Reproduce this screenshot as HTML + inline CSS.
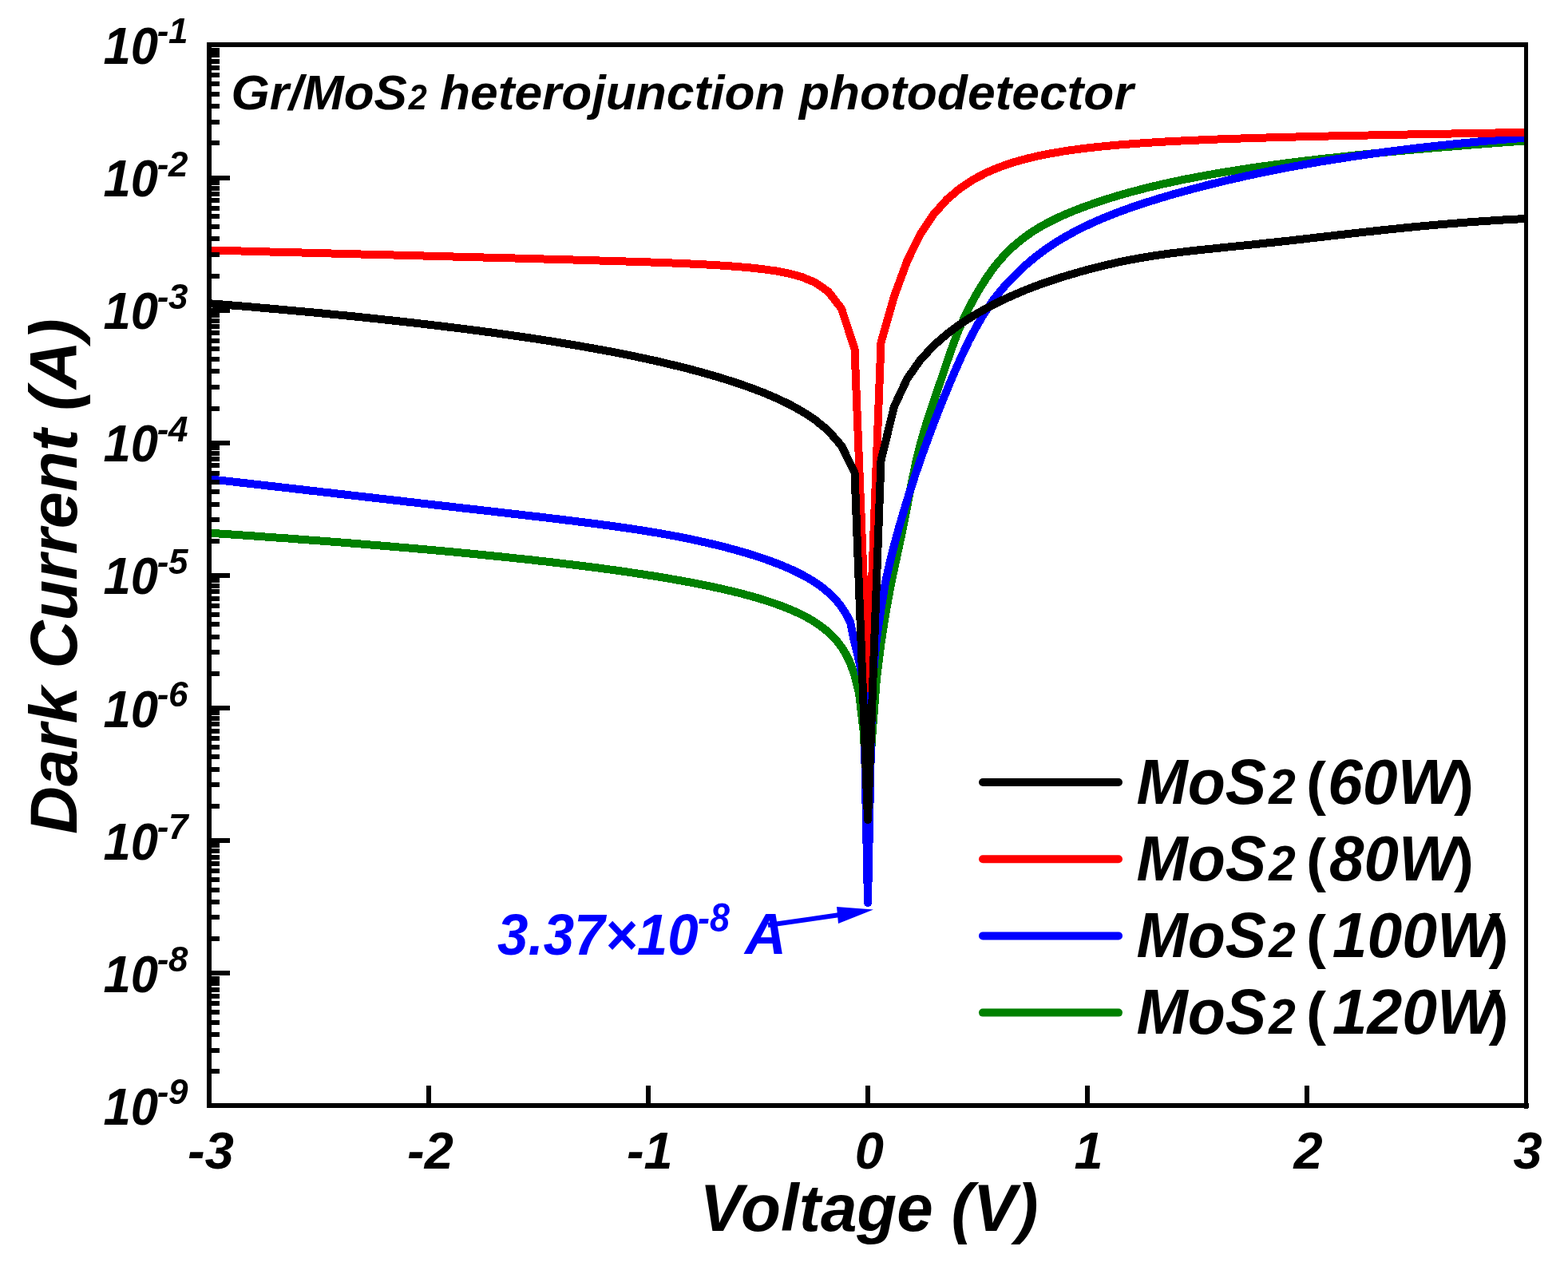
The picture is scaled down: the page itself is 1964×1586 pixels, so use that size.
<!DOCTYPE html>
<html><head><meta charset="utf-8"><title>Dark Current vs Voltage</title>
<style>html,body{margin:0;padding:0;background:#fff;width:1964px;height:1586px;overflow:hidden}svg{display:block}</style>
</head><body>
<svg width="1964" height="1586" viewBox="0 0 1964 1586"><defs><clipPath id="pc"><rect x="262" y="56" width="1649.5" height="1329"/></clipPath></defs>
<path d="M262.0,667.7 L267.5,668.0 L273.0,668.4 L278.5,668.8 L284.0,669.1 L289.5,669.5 L295.0,669.9 L300.5,670.3 L306.0,670.6 L311.5,671.0 L317.0,671.4 L322.5,671.8 L328.0,672.2 L333.5,672.6 L339.0,673.0 L344.5,673.4 L350.0,673.8 L355.5,674.1 L361.0,674.5 L366.5,674.9 L372.0,675.4 L377.5,675.8 L383.0,676.2 L388.5,676.6 L394.0,677.0 L399.5,677.4 L405.0,677.8 L410.5,678.2 L416.0,678.7 L421.5,679.1 L427.0,679.5 L432.5,680.0 L438.0,680.4 L443.5,680.8 L449.0,681.3 L454.5,681.7 L460.0,682.2 L465.5,682.6 L471.0,683.1 L476.5,683.5 L482.0,684.0 L487.5,684.4 L493.0,684.9 L498.5,685.4 L504.0,685.8 L509.5,686.3 L515.0,686.8 L520.5,687.3 L526.0,687.7 L531.5,688.2 L537.0,688.7 L542.5,689.2 L548.0,689.7 L553.5,690.2 L559.0,690.7 L564.5,691.2 L570.0,691.7 L575.5,692.3 L581.0,692.8 L586.5,693.3 L592.0,693.9 L597.5,694.4 L603.0,694.9 L608.5,695.5 L614.0,696.0 L619.5,696.6 L625.0,697.2 L630.5,697.7 L636.0,698.3 L641.5,698.9 L647.0,699.5 L652.5,700.0 L658.0,700.6 L663.5,701.2 L669.0,701.8 L674.5,702.5 L680.0,703.1 L685.5,703.7 L691.0,704.3 L696.5,705.0 L702.0,705.6 L707.5,706.3 L713.0,707.0 L718.5,707.6 L724.0,708.3 L729.5,709.0 L735.0,709.7 L740.5,710.4 L746.0,711.1 L751.5,711.8 L757.0,712.6 L762.5,713.3 L768.0,714.1 L773.5,714.8 L779.0,715.6 L784.5,716.4 L790.0,717.2 L795.5,718.0 L801.0,718.9 L806.5,719.7 L812.0,720.6 L817.5,721.4 L823.0,722.3 L828.5,723.2 L834.0,724.1 L839.5,725.1 L845.0,726.0 L850.5,727.0 L856.0,728.0 L861.5,729.0 L867.0,730.0 L872.5,731.1 L878.0,732.2 L883.5,733.3 L889.0,734.4 L894.5,735.6 L900.0,736.8 L905.5,738.0 L911.0,739.3 L916.5,740.6 L922.0,742.0 L927.5,743.3 L933.0,744.8 L938.5,746.3 L944.0,747.8 L949.5,749.4 L955.0,751.1 L960.5,752.8 L966.0,754.6 L971.5,756.5 L977.0,758.5 L982.5,760.6 L988.0,762.8 L993.5,765.1 L999.0,767.6 L1004.5,770.3 L1010.0,773.1 L1015.5,776.2 L1021.0,779.6 L1026.5,783.3 L1032.0,787.4 L1037.5,792.0 L1043.0,797.2 L1048.5,803.2 L1054.0,810.5 L1059.5,819.3 L1065.0,830.7 L1070.5,846.0 L1076.0,868.0 L1081.5,915.0 L1087.0,1005.0 L1092.5,920.0 L1098.0,850.0 L1103.5,806.0 L1109.0,770.0 L1114.5,739.8 L1120.0,712.6 L1125.5,687.4 L1131.0,661.6 L1136.5,633.1 L1142.0,604.0 L1147.5,577.8 L1153.0,555.6 L1158.5,536.5 L1164.0,519.2 L1169.5,502.9 L1175.0,486.8 L1180.5,470.5 L1186.0,454.1 L1191.5,438.2 L1197.0,423.3 L1202.5,409.6 L1208.0,397.3 L1213.5,386.1 L1219.0,375.7 L1224.5,366.1 L1230.0,357.0 L1235.5,348.4 L1241.0,340.5 L1246.5,333.1 L1252.0,326.4 L1257.5,320.3 L1263.0,314.6 L1268.5,309.4 L1274.0,304.6 L1279.5,300.1 L1285.0,296.0 L1290.5,292.1 L1296.0,288.5 L1301.5,285.1 L1307.0,282.0 L1312.5,279.0 L1318.0,276.2 L1323.5,273.5 L1329.0,270.9 L1334.5,268.5 L1340.0,266.2 L1345.5,263.9 L1351.0,261.8 L1356.5,259.7 L1362.0,257.7 L1367.5,255.8 L1373.0,253.9 L1378.5,252.0 L1384.0,250.2 L1389.5,248.5 L1395.0,246.8 L1400.5,245.1 L1406.0,243.5 L1411.5,242.0 L1417.0,240.4 L1422.5,239.0 L1428.0,237.5 L1433.5,236.1 L1439.0,234.7 L1444.5,233.4 L1450.0,232.1 L1455.5,230.8 L1461.0,229.6 L1466.5,228.4 L1472.0,227.2 L1477.5,226.0 L1483.0,224.9 L1488.5,223.8 L1494.0,222.8 L1499.5,221.7 L1505.0,220.7 L1510.5,219.7 L1516.0,218.7 L1521.5,217.7 L1527.0,216.8 L1532.5,215.9 L1538.0,215.0 L1543.5,214.1 L1549.0,213.2 L1554.5,212.4 L1560.0,211.5 L1565.5,210.7 L1571.0,209.9 L1576.5,209.1 L1582.0,208.3 L1587.5,207.6 L1593.0,206.8 L1598.5,206.1 L1604.0,205.4 L1609.5,204.6 L1615.0,203.9 L1620.5,203.3 L1626.0,202.6 L1631.5,201.9 L1637.0,201.2 L1642.5,200.6 L1648.0,199.9 L1653.5,199.3 L1659.0,198.7 L1664.5,198.1 L1670.0,197.5 L1675.5,196.9 L1681.0,196.3 L1686.5,195.7 L1692.0,195.1 L1697.5,194.5 L1703.0,194.0 L1708.5,193.4 L1714.0,192.9 L1719.5,192.3 L1725.0,191.8 L1730.5,191.3 L1736.0,190.7 L1741.5,190.2 L1747.0,189.7 L1752.5,189.2 L1758.0,188.7 L1763.5,188.2 L1769.0,187.7 L1774.5,187.2 L1780.0,186.7 L1785.5,186.3 L1791.0,185.8 L1796.5,185.3 L1802.0,184.8 L1807.5,184.4 L1813.0,183.9 L1818.5,183.5 L1824.0,183.0 L1829.5,182.6 L1835.0,182.1 L1840.5,181.7 L1846.0,181.3 L1851.5,180.8 L1857.0,180.4 L1862.5,180.0 L1868.0,179.6 L1873.5,179.1 L1879.0,178.7 L1884.5,178.3 L1890.0,177.9 L1895.5,177.5 L1901.0,177.1 L1906.5,176.7 L1912.0,176.3" fill="none" stroke="#008000" stroke-width="10" stroke-linejoin="round" stroke-linecap="butt" clip-path="url(#pc)" shape-rendering="crispEdges"/>
<path d="M262.0,600.1 L267.5,600.7 L273.0,601.4 L278.5,602.0 L284.0,602.6 L289.5,603.2 L295.0,603.9 L300.5,604.5 L306.0,605.1 L311.5,605.8 L317.0,606.4 L322.5,607.0 L328.0,607.6 L333.5,608.3 L339.0,608.9 L344.5,609.5 L350.0,610.2 L355.5,610.8 L361.0,611.4 L366.5,612.0 L372.0,612.7 L377.5,613.3 L383.0,613.9 L388.5,614.6 L394.0,615.2 L399.5,615.8 L405.0,616.5 L410.5,617.1 L416.0,617.7 L421.5,618.4 L427.0,619.0 L432.5,619.6 L438.0,620.3 L443.5,620.9 L449.0,621.5 L454.5,622.2 L460.0,622.8 L465.5,623.4 L471.0,624.0 L476.5,624.7 L482.0,625.3 L487.5,625.9 L493.0,626.6 L498.5,627.2 L504.0,627.8 L509.5,628.5 L515.0,629.1 L520.5,629.7 L526.0,630.4 L531.5,631.0 L537.0,631.6 L542.5,632.3 L548.0,632.9 L553.5,633.5 L559.0,634.1 L564.5,634.8 L570.0,635.4 L575.5,636.0 L581.0,636.7 L586.5,637.3 L592.0,637.9 L597.5,638.5 L603.0,639.2 L608.5,639.8 L614.0,640.4 L619.5,641.1 L625.0,641.7 L630.5,642.3 L636.0,643.0 L641.5,643.6 L647.0,644.2 L652.5,644.9 L658.0,645.5 L663.5,646.1 L669.0,646.8 L674.5,647.4 L680.0,648.1 L685.5,648.7 L691.0,649.4 L696.5,650.0 L702.0,650.7 L707.5,651.4 L713.0,652.0 L718.5,652.7 L724.0,653.4 L729.5,654.1 L735.0,654.8 L740.5,655.5 L746.0,656.2 L751.5,656.9 L757.0,657.7 L762.5,658.4 L768.0,659.1 L773.5,659.9 L779.0,660.7 L784.5,661.5 L790.0,662.3 L795.5,663.1 L801.0,664.0 L806.5,664.8 L812.0,665.7 L817.5,666.6 L823.0,667.5 L828.5,668.5 L834.0,669.5 L839.5,670.5 L845.0,671.5 L850.5,672.6 L856.0,673.6 L861.5,674.8 L867.0,675.9 L872.5,677.1 L878.0,678.3 L883.5,679.5 L889.0,680.8 L894.5,682.1 L900.0,683.4 L905.5,684.8 L911.0,686.2 L916.5,687.7 L922.0,689.2 L927.5,690.8 L933.0,692.4 L938.5,694.0 L944.0,695.7 L949.5,697.5 L955.0,699.3 L960.5,701.2 L966.0,703.2 L971.5,705.3 L977.0,707.4 L982.5,709.7 L988.0,712.0 L993.5,714.5 L999.0,717.2 L1004.5,720.0 L1010.0,723.0 L1015.5,726.2 L1021.0,729.7 L1026.5,733.4 L1032.0,737.6 L1037.5,742.2 L1043.0,747.4 L1048.5,753.3 L1054.0,760.3 L1059.5,768.7 L1065.0,779.4 L1069.0,799.0 L1076.0,828.0 L1081.5,856.0 L1087.0,1131.0 L1092.5,858.0 L1098.0,800.0 L1103.5,763.0 L1109.0,729.8 L1114.5,705.0 L1120.0,683.0 L1125.5,662.7 L1131.0,643.6 L1136.5,625.6 L1142.0,608.3 L1147.5,591.7 L1153.0,575.7 L1158.5,560.2 L1164.0,545.1 L1169.5,530.5 L1175.0,516.3 L1180.5,502.4 L1186.0,488.9 L1191.5,475.7 L1197.0,462.9 L1202.5,450.5 L1208.0,438.6 L1213.5,427.3 L1219.0,416.7 L1224.5,406.6 L1230.0,397.2 L1235.5,388.5 L1241.0,380.3 L1246.5,372.8 L1252.0,365.9 L1257.5,359.5 L1263.0,353.6 L1268.5,347.8 L1274.0,342.3 L1279.5,337.0 L1285.0,331.9 L1290.5,327.2 L1296.0,322.6 L1301.5,318.3 L1307.0,314.2 L1312.5,310.4 L1318.0,306.7 L1323.5,303.1 L1329.0,299.7 L1334.5,296.5 L1340.0,293.4 L1345.5,290.4 L1351.0,287.6 L1356.5,284.8 L1362.0,282.2 L1367.5,279.6 L1373.0,277.1 L1378.5,274.8 L1384.0,272.4 L1389.5,270.2 L1395.0,268.0 L1400.5,265.9 L1406.0,263.9 L1411.5,261.9 L1417.0,259.9 L1422.5,258.0 L1428.0,256.2 L1433.5,254.4 L1439.0,252.6 L1444.5,250.9 L1450.0,249.2 L1455.5,247.5 L1461.0,245.9 L1466.5,244.3 L1472.0,242.7 L1477.5,241.2 L1483.0,239.7 L1488.5,238.2 L1494.0,236.7 L1499.5,235.3 L1505.0,233.8 L1510.5,232.4 L1516.0,231.0 L1521.5,229.7 L1527.0,228.3 L1532.5,227.0 L1538.0,225.7 L1543.5,224.4 L1549.0,223.2 L1554.5,221.9 L1560.0,220.7 L1565.5,219.5 L1571.0,218.3 L1576.5,217.2 L1582.0,216.0 L1587.5,214.9 L1593.0,213.8 L1598.5,212.7 L1604.0,211.6 L1609.5,210.5 L1615.0,209.5 L1620.5,208.5 L1626.0,207.5 L1631.5,206.5 L1637.0,205.5 L1642.5,204.5 L1648.0,203.6 L1653.5,202.6 L1659.0,201.7 L1664.5,200.8 L1670.0,199.9 L1675.5,199.1 L1681.0,198.2 L1686.5,197.3 L1692.0,196.5 L1697.5,195.7 L1703.0,194.9 L1708.5,194.1 L1714.0,193.3 L1719.5,192.5 L1725.0,191.8 L1730.5,191.0 L1736.0,190.3 L1741.5,189.6 L1747.0,188.9 L1752.5,188.2 L1758.0,187.5 L1763.5,186.8 L1769.0,186.2 L1774.5,185.5 L1780.0,184.9 L1785.5,184.3 L1791.0,183.6 L1796.5,183.0 L1802.0,182.4 L1807.5,181.9 L1813.0,181.3 L1818.5,180.7 L1824.0,180.2 L1829.5,179.6 L1835.0,179.1 L1840.5,178.6 L1846.0,178.0 L1851.5,177.5 L1857.0,177.0 L1862.5,176.5 L1868.0,176.1 L1873.5,175.6 L1879.0,175.1 L1884.5,174.7 L1890.0,174.2 L1895.5,173.8 L1901.0,173.4 L1906.5,172.9 L1912.0,172.5" fill="none" stroke="#0000ff" stroke-width="10" stroke-linejoin="round" stroke-linecap="butt" clip-path="url(#pc)" shape-rendering="crispEdges"/>
<path d="M262.0,313.5 L278.5,313.9 L295.0,314.3 L311.5,314.8 L328.0,315.2 L344.5,315.7 L361.0,316.1 L377.5,316.5 L394.0,317.0 L410.5,317.4 L427.0,317.8 L443.5,318.3 L460.0,318.7 L476.5,319.1 L493.0,319.5 L509.5,320.0 L526.0,320.4 L542.5,320.8 L559.0,321.3 L575.5,321.7 L592.0,322.1 L608.5,322.6 L625.0,323.0 L641.5,323.4 L658.0,323.9 L674.5,324.3 L691.0,324.8 L707.5,325.2 L724.0,325.7 L740.5,326.2 L757.0,326.7 L773.5,327.2 L790.0,327.7 L806.5,328.2 L823.0,328.8 L839.5,329.4 L856.0,330.1 L872.5,330.9 L889.0,331.7 L905.5,332.7 L922.0,333.9 L938.5,335.3 L955.0,337.1 L971.5,339.4 L988.0,342.5 L1004.5,347.0 L1021.0,353.9 L1037.5,365.3 L1054.0,386.7 L1070.5,437.0 L1087.0,862.0 L1103.5,429.0 L1120.0,371.2 L1136.5,326.4 L1153.0,293.2 L1169.5,268.4 L1186.0,249.9 L1202.5,235.9 L1219.0,225.0 L1235.5,216.3 L1252.0,209.3 L1268.5,203.7 L1285.0,199.0 L1301.5,195.1 L1318.0,191.9 L1334.5,189.1 L1351.0,186.8 L1367.5,184.8 L1384.0,183.1 L1400.5,181.6 L1417.0,180.3 L1433.5,179.1 L1450.0,178.1 L1466.5,177.1 L1483.0,176.3 L1499.5,175.6 L1516.0,174.9 L1532.5,174.2 L1549.0,173.7 L1565.5,173.1 L1582.0,172.6 L1598.5,172.2 L1615.0,171.7 L1631.5,171.3 L1648.0,170.9 L1664.5,170.5 L1681.0,170.2 L1697.5,169.8 L1714.0,169.5 L1730.5,169.2 L1747.0,168.8 L1763.5,168.5 L1780.0,168.2 L1796.5,167.9 L1813.0,167.6 L1829.5,167.3 L1846.0,167.0 L1862.5,166.7 L1879.0,166.4 L1895.5,166.1 L1912.0,165.8" fill="none" stroke="#ff0000" stroke-width="10" stroke-linejoin="round" stroke-linecap="butt" clip-path="url(#pc)" shape-rendering="crispEdges"/>
<path d="M262.0,380.2 L278.5,381.5 L295.0,382.9 L311.5,384.2 L328.0,385.7 L344.5,387.1 L361.0,388.6 L377.5,390.1 L394.0,391.6 L410.5,393.2 L427.0,394.8 L443.5,396.4 L460.0,398.1 L476.5,399.9 L493.0,401.7 L509.5,403.5 L526.0,405.4 L542.5,407.3 L559.0,409.3 L575.5,411.3 L592.0,413.4 L608.5,415.6 L625.0,417.8 L641.5,420.2 L658.0,422.6 L674.5,425.0 L691.0,427.6 L707.5,430.3 L724.0,433.1 L740.5,436.0 L757.0,439.0 L773.5,442.1 L790.0,445.4 L806.5,448.9 L823.0,452.5 L839.5,456.4 L856.0,460.4 L872.5,464.7 L889.0,469.3 L905.5,474.2 L922.0,479.5 L938.5,485.2 L955.0,491.4 L971.5,498.4 L988.0,506.2 L1004.5,515.2 L1021.0,526.0 L1037.5,539.6 L1054.0,558.5 L1070.5,592.0 L1087.0,1027.0 L1103.5,577.0 L1120.0,509.1 L1136.5,474.1 L1153.0,450.7 L1169.5,432.9 L1186.0,418.5 L1202.5,406.3 L1219.0,395.6 L1235.5,386.2 L1252.0,377.7 L1268.5,370.1 L1285.0,363.1 L1301.5,356.8 L1318.0,351.1 L1334.5,345.8 L1351.0,341.0 L1367.5,336.5 L1384.0,332.4 L1400.5,328.6 L1417.0,325.3 L1433.5,322.3 L1450.0,319.7 L1466.5,317.4 L1483.0,315.4 L1499.5,313.5 L1516.0,311.8 L1532.5,310.1 L1549.0,308.4 L1565.5,306.8 L1582.0,305.0 L1598.5,303.3 L1615.0,301.5 L1631.5,299.6 L1648.0,297.7 L1664.5,295.8 L1681.0,293.9 L1697.5,292.0 L1714.0,290.2 L1730.5,288.4 L1747.0,286.7 L1763.5,285.0 L1780.0,283.4 L1796.5,281.9 L1813.0,280.5 L1829.5,279.2 L1846.0,277.9 L1862.5,276.8 L1879.0,275.7 L1895.5,274.8 L1912.0,273.9" fill="none" stroke="#000000" stroke-width="10" stroke-linejoin="round" stroke-linecap="butt" clip-path="url(#pc)" shape-rendering="crispEdges"/>
<path d="M259,176H275V182H259ZM259,150H275V156H259ZM259,130H275V136H259ZM259,115H275V121H259ZM259,102H275V108H259ZM259,91H275V97H259ZM259,82H275V88H259ZM259,74H275V80H259ZM259,66H275V72H259ZM259,60H275V66H259ZM259,220H288V226H259ZM259,343H275V349H259ZM259,316H275V322H259ZM259,296H275V302H259ZM259,281H275V287H259ZM259,268H275V274H259ZM259,258H275V264H259ZM259,248H275V254H259ZM259,240H275V246H259ZM259,233H275V239H259ZM259,226H275V232H259ZM259,386H288V392H259ZM259,509H275V515H259ZM259,482H275V488H259ZM259,462H275V468H259ZM259,447H275V453H259ZM259,434H275V440H259ZM259,424H275V430H259ZM259,414H275V420H259ZM259,406H275V412H259ZM259,399H275V405H259ZM259,392H275V398H259ZM259,552H288V558H259ZM259,675H275V681H259ZM259,648H275V654H259ZM259,629H275V635H259ZM259,613H275V619H259ZM259,601H275V607H259ZM259,590H275V596H259ZM259,580H275V586H259ZM259,572H275V578H259ZM259,565H275V571H259ZM259,558H275V564H259ZM259,718H288V724H259ZM259,841H275V847H259ZM259,814H275V820H259ZM259,795H275V801H259ZM259,779H275V785H259ZM259,767H275V773H259ZM259,756H275V762H259ZM259,747H275V753H259ZM259,738H275V744H259ZM259,731H275V737H259ZM259,724H275V730H259ZM259,884H288V890H259ZM259,1007H275V1013H259ZM259,980H275V986H259ZM259,961H275V967H259ZM259,945H275V951H259ZM259,933H275V939H259ZM259,922H275V928H259ZM259,913H275V919H259ZM259,904H275V910H259ZM259,897H275V903H259ZM259,890H275V896H259ZM259,1050H288V1056H259ZM259,1173H275V1179H259ZM259,1146H275V1152H259ZM259,1127H275V1133H259ZM259,1112H275V1118H259ZM259,1099H275V1105H259ZM259,1088H275V1094H259ZM259,1079H275V1085H259ZM259,1071H275V1077H259ZM259,1063H275V1069H259ZM259,1056H275V1062H259ZM259,1216H288V1222H259ZM259,1339H275V1345H259ZM259,1313H275V1319H259ZM259,1293H275V1299H259ZM259,1278H275V1284H259ZM259,1265H275V1271H259ZM259,1254H275V1260H259ZM259,1245H275V1251H259ZM259,1237H275V1243H259ZM259,1229H275V1235H259ZM259,1223H275V1229H259ZM534,1360H540V1388H534ZM809,1360H815V1388H809ZM1084,1360H1090V1388H1084ZM1359,1360H1365V1388H1359ZM1634,1360H1640V1388H1634ZM259,53H1914V59H259ZM259,53H265V1388H259ZM1909,53H1914V1389H1909ZM259,1382H1915V1388H259Z" fill="#000" shape-rendering="crispEdges"/>
<text transform="translate(129.5,79.9) scale(0.95,1)" font-family="'Liberation Sans', Arial, sans-serif" font-weight="bold" font-style="italic" font-size="65" fill="#000">10</text>
<text x="196.7" y="54.4" font-family="'Liberation Sans', Arial, sans-serif" font-weight="bold" font-style="italic" font-size="44" fill="#000">-</text>
<text x="211" y="54.4" font-family="'Liberation Sans', Arial, sans-serif" font-weight="bold" font-style="italic" font-size="44" fill="#000">1</text>
<text transform="translate(129.5,246.0) scale(0.95,1)" font-family="'Liberation Sans', Arial, sans-serif" font-weight="bold" font-style="italic" font-size="65" fill="#000">10</text>
<text x="196.7" y="220.5" font-family="'Liberation Sans', Arial, sans-serif" font-weight="bold" font-style="italic" font-size="44" fill="#000">-</text>
<text x="211" y="220.5" font-family="'Liberation Sans', Arial, sans-serif" font-weight="bold" font-style="italic" font-size="44" fill="#000">2</text>
<text transform="translate(129.5,412.1) scale(0.95,1)" font-family="'Liberation Sans', Arial, sans-serif" font-weight="bold" font-style="italic" font-size="65" fill="#000">10</text>
<text x="196.7" y="386.6" font-family="'Liberation Sans', Arial, sans-serif" font-weight="bold" font-style="italic" font-size="44" fill="#000">-</text>
<text x="211" y="386.6" font-family="'Liberation Sans', Arial, sans-serif" font-weight="bold" font-style="italic" font-size="44" fill="#000">3</text>
<text transform="translate(129.5,578.3) scale(0.95,1)" font-family="'Liberation Sans', Arial, sans-serif" font-weight="bold" font-style="italic" font-size="65" fill="#000">10</text>
<text x="196.7" y="552.8" font-family="'Liberation Sans', Arial, sans-serif" font-weight="bold" font-style="italic" font-size="44" fill="#000">-</text>
<text x="211" y="552.8" font-family="'Liberation Sans', Arial, sans-serif" font-weight="bold" font-style="italic" font-size="44" fill="#000">4</text>
<text transform="translate(129.5,744.4) scale(0.95,1)" font-family="'Liberation Sans', Arial, sans-serif" font-weight="bold" font-style="italic" font-size="65" fill="#000">10</text>
<text x="196.7" y="718.9" font-family="'Liberation Sans', Arial, sans-serif" font-weight="bold" font-style="italic" font-size="44" fill="#000">-</text>
<text x="211" y="718.9" font-family="'Liberation Sans', Arial, sans-serif" font-weight="bold" font-style="italic" font-size="44" fill="#000">5</text>
<text transform="translate(129.5,910.5) scale(0.95,1)" font-family="'Liberation Sans', Arial, sans-serif" font-weight="bold" font-style="italic" font-size="65" fill="#000">10</text>
<text x="196.7" y="885.0" font-family="'Liberation Sans', Arial, sans-serif" font-weight="bold" font-style="italic" font-size="44" fill="#000">-</text>
<text x="211" y="885.0" font-family="'Liberation Sans', Arial, sans-serif" font-weight="bold" font-style="italic" font-size="44" fill="#000">6</text>
<text transform="translate(129.5,1076.7) scale(0.95,1)" font-family="'Liberation Sans', Arial, sans-serif" font-weight="bold" font-style="italic" font-size="65" fill="#000">10</text>
<text x="196.7" y="1051.2" font-family="'Liberation Sans', Arial, sans-serif" font-weight="bold" font-style="italic" font-size="44" fill="#000">-</text>
<text x="211" y="1051.2" font-family="'Liberation Sans', Arial, sans-serif" font-weight="bold" font-style="italic" font-size="44" fill="#000">7</text>
<text transform="translate(129.5,1242.8) scale(0.95,1)" font-family="'Liberation Sans', Arial, sans-serif" font-weight="bold" font-style="italic" font-size="65" fill="#000">10</text>
<text x="196.7" y="1217.3" font-family="'Liberation Sans', Arial, sans-serif" font-weight="bold" font-style="italic" font-size="44" fill="#000">-</text>
<text x="211" y="1217.3" font-family="'Liberation Sans', Arial, sans-serif" font-weight="bold" font-style="italic" font-size="44" fill="#000">8</text>
<text transform="translate(129.5,1408.9) scale(0.95,1)" font-family="'Liberation Sans', Arial, sans-serif" font-weight="bold" font-style="italic" font-size="65" fill="#000">10</text>
<text x="196.7" y="1383.4" font-family="'Liberation Sans', Arial, sans-serif" font-weight="bold" font-style="italic" font-size="44" fill="#000">-</text>
<text x="211" y="1383.4" font-family="'Liberation Sans', Arial, sans-serif" font-weight="bold" font-style="italic" font-size="44" fill="#000">9</text>
<text x="264.0" y="1463.5" font-family="'Liberation Sans', Arial, sans-serif" font-weight="bold" font-style="italic" font-size="65" text-anchor="middle" fill="#000">-3</text>
<text x="538.9" y="1463.5" font-family="'Liberation Sans', Arial, sans-serif" font-weight="bold" font-style="italic" font-size="65" text-anchor="middle" fill="#000">-2</text>
<text x="813.8" y="1463.5" font-family="'Liberation Sans', Arial, sans-serif" font-weight="bold" font-style="italic" font-size="65" text-anchor="middle" fill="#000">-1</text>
<text x="1088.8" y="1463.5" font-family="'Liberation Sans', Arial, sans-serif" font-weight="bold" font-style="italic" font-size="65" text-anchor="middle" fill="#000">0</text>
<text x="1363.7" y="1463.5" font-family="'Liberation Sans', Arial, sans-serif" font-weight="bold" font-style="italic" font-size="65" text-anchor="middle" fill="#000">1</text>
<text x="1638.6" y="1463.5" font-family="'Liberation Sans', Arial, sans-serif" font-weight="bold" font-style="italic" font-size="65" text-anchor="middle" fill="#000">2</text>
<text x="1913.5" y="1463.5" font-family="'Liberation Sans', Arial, sans-serif" font-weight="bold" font-style="italic" font-size="65" text-anchor="middle" fill="#000">3</text>
<text transform="translate(289.5,137)" font-family="'Liberation Sans', Arial, sans-serif" font-weight="bold" font-style="italic" font-size="62" fill="#000">Gr/MoS</text>
<text transform="translate(511.7,137) scale(0.92,1)" font-family="'Liberation Sans', Arial, sans-serif" font-weight="bold" font-style="italic" font-size="45" fill="#000">2</text>
<text transform="translate(551,137) scale(1.005,1)" font-family="'Liberation Sans', Arial, sans-serif" font-weight="bold" font-style="italic" font-size="62" fill="#000">heterojunction photodetector</text>
<line x1="1231" y1="980.0" x2="1401" y2="980.0" stroke="#000000" stroke-width="10" stroke-linecap="round"/>
<text transform="translate(1423.4,1006.5) scale(0.964,1)" font-family="'Liberation Sans', Arial, sans-serif" font-weight="bold" font-style="italic" font-size="80" fill="#000">MoS</text>
<text transform="translate(1589.2,1006.5) scale(0.956,1)" font-family="'Liberation Sans', Arial, sans-serif" font-weight="bold" font-style="italic" font-size="63" fill="#000">2</text>
<text transform="translate(1636,1006.5)" font-family="'Liberation Sans', Arial, sans-serif" font-weight="bold" font-size="75" fill="#000">(</text>
<text transform="translate(1663,1006.5) scale(0.985,1)" font-family="'Liberation Sans', Arial, sans-serif" font-weight="bold" font-style="italic" font-size="80" fill="#000">60W</text>
<text transform="translate(1821,1006.5)" font-family="'Liberation Sans', Arial, sans-serif" font-weight="bold" font-size="75" fill="#000">)</text>
<line x1="1231" y1="1076.2" x2="1401" y2="1076.2" stroke="#ff0000" stroke-width="10" stroke-linecap="round"/>
<text transform="translate(1423.4,1102.7) scale(0.964,1)" font-family="'Liberation Sans', Arial, sans-serif" font-weight="bold" font-style="italic" font-size="80" fill="#000">MoS</text>
<text transform="translate(1589.2,1102.7) scale(0.956,1)" font-family="'Liberation Sans', Arial, sans-serif" font-weight="bold" font-style="italic" font-size="63" fill="#000">2</text>
<text transform="translate(1636,1102.7)" font-family="'Liberation Sans', Arial, sans-serif" font-weight="bold" font-size="75" fill="#000">(</text>
<text transform="translate(1665,1102.7) scale(0.977,1)" font-family="'Liberation Sans', Arial, sans-serif" font-weight="bold" font-style="italic" font-size="80" fill="#000">80W</text>
<text transform="translate(1821,1102.7)" font-family="'Liberation Sans', Arial, sans-serif" font-weight="bold" font-size="75" fill="#000">)</text>
<line x1="1231" y1="1172.4" x2="1401" y2="1172.4" stroke="#0000ff" stroke-width="10" stroke-linecap="round"/>
<text transform="translate(1423.4,1198.9) scale(0.964,1)" font-family="'Liberation Sans', Arial, sans-serif" font-weight="bold" font-style="italic" font-size="80" fill="#000">MoS</text>
<text transform="translate(1589.2,1198.9) scale(0.956,1)" font-family="'Liberation Sans', Arial, sans-serif" font-weight="bold" font-style="italic" font-size="63" fill="#000">2</text>
<text transform="translate(1636,1198.9)" font-family="'Liberation Sans', Arial, sans-serif" font-weight="bold" font-size="75" fill="#000">(</text>
<text transform="translate(1668.7,1198.9) scale(0.984,1)" font-family="'Liberation Sans', Arial, sans-serif" font-weight="bold" font-style="italic" font-size="80" fill="#000">100W</text>
<text transform="translate(1864.5,1198.9)" font-family="'Liberation Sans', Arial, sans-serif" font-weight="bold" font-size="75" fill="#000">)</text>
<line x1="1231" y1="1268.6" x2="1401" y2="1268.6" stroke="#008000" stroke-width="10" stroke-linecap="round"/>
<text transform="translate(1423.4,1295.1) scale(0.964,1)" font-family="'Liberation Sans', Arial, sans-serif" font-weight="bold" font-style="italic" font-size="80" fill="#000">MoS</text>
<text transform="translate(1589.2,1295.1) scale(0.956,1)" font-family="'Liberation Sans', Arial, sans-serif" font-weight="bold" font-style="italic" font-size="63" fill="#000">2</text>
<text transform="translate(1636,1295.1)" font-family="'Liberation Sans', Arial, sans-serif" font-weight="bold" font-size="75" fill="#000">(</text>
<text transform="translate(1668.7,1295.1) scale(0.984,1)" font-family="'Liberation Sans', Arial, sans-serif" font-weight="bold" font-style="italic" font-size="80" fill="#000">120W</text>
<text transform="translate(1864.5,1295.1)" font-family="'Liberation Sans', Arial, sans-serif" font-weight="bold" font-size="75" fill="#000">)</text>
<text transform="translate(95.5,1045) rotate(-90)" font-family="'Liberation Sans', Arial, sans-serif" font-weight="bold" font-style="italic" font-size="83" fill="#000">Dark Current (A)</text>
<text transform="translate(876.6,1542) scale(0.973,1)" font-family="'Liberation Sans', Arial, sans-serif" font-weight="bold" font-style="italic" font-size="84" fill="#000">Voltage (V)</text>
<text transform="translate(623,1196) scale(0.96,1)" font-family="'Liberation Sans', Arial, sans-serif" font-weight="bold" font-style="italic" font-size="72" fill="#0000ff">3.37×10</text>
<text transform="translate(874,1167.3) scale(0.9,1)" font-family="'Liberation Sans', Arial, sans-serif" font-weight="bold" font-style="italic" font-size="50" fill="#0000ff">-8</text>
<text transform="translate(933,1195)" font-family="'Liberation Sans', Arial, sans-serif" font-weight="bold" font-style="italic" font-size="72" fill="#0000ff">A</text>
<line x1="962" y1="1159" x2="1052" y2="1146" stroke="#0000ff" stroke-width="6"/>
<polygon points="1048,1136 1050,1157 1094,1139.4" fill="#0000ff"/></svg>
</body></html>
